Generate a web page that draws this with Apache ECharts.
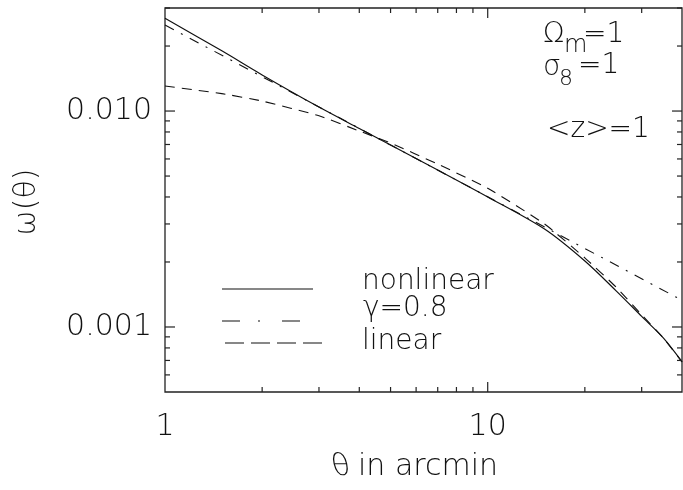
<!DOCTYPE html>
<html>
<head>
<meta charset="utf-8">
<script src="https://cdn.jsdelivr.net/npm/echarts@6/dist/echarts.min.js"></script>
<style>
  html, body { margin: 0; padding: 0; background: #fff; }
  #chart { width: 683px; height: 490px; }
</style>
</head>
<body>
<div id="chart"></div>
<script>
// values
const thetaNonlin = [1, 1.5, 2, 3, 4, 5, 7, 10, 15, 20, 25, 30, 35, 40];
const omegaNonlin = [0.0269, 0.0190, 0.0147, 0.01043, 0.0083, 0.00696, 0.00533, 0.0040, 0.00284, 0.00202, 0.00147, 0.00112, 0.00089, 0.00069];
const thetaGamma = [1, 2, 5, 10, 20, 40];
const omegaGamma = [0.0250, 0.01442, 0.00696, 0.00401, 0.00231, 0.00133];
const thetaLin = [1, 1.5, 2, 3, 4, 5, 7, 10, 15, 20, 25, 30, 35, 40];
const omegaLin = [0.01305, 0.01204, 0.01112, 0.00951, 0.00808, 0.00711, 0.00568, 0.00439, 0.00300, 0.00209, 0.00153, 0.00114, 0.00089, 0.00069];

const xMajorTicks = [10];
const xMinorTicks = [2, 3, 4, 5, 6, 7, 8, 9, 20, 30];
const yMajorTicks = [0.001, 0.01];
const yMinorTicks = [0.0006, 0.0007, 0.0008, 0.0009, 0.002, 0.003, 0.004, 0.005, 0.006, 0.007, 0.008, 0.009, 0.02, 0.03];

const X_MIN = 1, X_MAX = 40, Y_MIN = 0.0005, Y_MAX = 0.03;
const FONT = "'DejaVu Sans'";
const INK = '#111';

function pairs(xs, ys) {
    return xs.map(function (x, i) { return [x, ys[i]]; });
}

// tick marks on all four sides, pointing inward
const xTickData = xMajorTicks.map(v => [v, Y_MIN, 10]).concat(xMinorTicks.map(v => [v, Y_MIN, 5]));
const yTickData = yMajorTicks.map(v => [X_MIN, v, 10]).concat(yMinorTicks.map(v => [X_MIN, v, 5]));

function tickRenderer(isX, data) {
    return function (params, api) {
        const cs = params.coordSys;
        const d = data[params.dataIndex];
        const p = api.coord([d[0], d[1]]);
        const len = d[2];
        const st = {stroke: '#222', lineWidth: 1.2};
        let a, b;
        if (isX) {
            const bottom = cs.y + cs.height;
            a = {x1: p[0], y1: bottom, x2: p[0], y2: bottom - len};
            b = {x1: p[0], y1: cs.y, x2: p[0], y2: cs.y + len};
        } else {
            const right = cs.x + cs.width;
            a = {x1: cs.x, y1: p[1], x2: cs.x + len, y2: p[1]};
            b = {x1: right, y1: p[1], x2: right - len, y2: p[1]};
        }
        return {
            type: 'group',
            children: [
                {type: 'line', shape: a, style: st},
                {type: 'line', shape: b, style: st}
            ]
        };
    };
}

function txt(text, x, y, size, extra) {
    return {
        type: 'text',
        style: Object.assign({
            text: text, x: x, y: y,
            fontSize: size, fontFamily: FONT, fontWeight: 200, fill: INK,
            textAlign: 'left', textVerticalAlign: 'middle',
            align: 'left', verticalAlign: 'middle'
        }, extra || {})
    };
}

function seg(x1, x2, y, dash) {
    return {
        type: 'line',
        shape: {x1: x1, y1: y, x2: x2, y2: y},
        style: {stroke: '#111', lineWidth: 1.2, lineDash: dash || null}
    };
}

const chart = echarts.init(document.getElementById('chart'), null, {renderer: 'canvas'});

// thin slanted theta for the x title
const thetaTitle = txt('θ', 0, 0, 30);
thetaTitle.x = 332;
thetaTitle.y = 467;
thetaTitle.skewX = 0.22;

const option = {
    animation: false,
    backgroundColor: '#fff',
    grid: {
        left: 165, right: 1, top: 8, bottom: 98,
        show: true, borderColor: '#222', borderWidth: 1.3
    },
    xAxis: {
        type: 'log', logBase: 10, min: X_MIN, max: X_MAX,
        axisLine: {show: false}, axisTick: {show: false}, splitLine: {show: false},
        axisLabel: {
            fontSize: 30, fontFamily: FONT, fontWeight: 200, color: INK, margin: 20,
            showMinLabel: true, showMaxLabel: false,
            formatter: function (v) { return String(Math.round(v)); }
        }
    },
    yAxis: {
        type: 'log', logBase: 10, min: Y_MIN, max: Y_MAX,
        axisLine: {show: false}, axisTick: {show: false}, splitLine: {show: false},
        axisLabel: {
            fontSize: 30, fontFamily: FONT, fontWeight: 200, color: INK, margin: 13,
            showMinLabel: false, showMaxLabel: false,
            formatter: function (v) { return v.toFixed(3); }
        }
    },
    series: [
        {
            name: 'nonlinear', type: 'line', data: pairs(thetaNonlin, omegaNonlin),
            showSymbol: false, smooth: 0.3, clip: true,
            lineStyle: {color: '#111', width: 1.2, type: 'solid'}
        },
        {
            name: 'gamma', type: 'line', data: pairs(thetaGamma, omegaGamma),
            showSymbol: false, clip: true,
            lineStyle: {color: '#111', width: 1.1, type: [10, 8, 2, 8]}
        },
        {
            name: 'linear', type: 'line', data: pairs(thetaLin, omegaLin),
            showSymbol: false, smooth: 0.15, clip: true,
            lineStyle: {color: '#111', width: 1.1, type: [10, 7]}
        },
        {
            type: 'custom', renderItem: tickRenderer(true, xTickData),
            data: xTickData, clip: false, silent: true, z: 5
        },
        {
            type: 'custom', renderItem: tickRenderer(false, yTickData),
            data: yTickData, clip: false, silent: true, z: 5
        }
    ],
    graphic: [
        // axis titles
        {
            type: 'text', x: 27, y: 202, rotation: Math.PI / 2,
            style: {
                text: 'ω(θ)', fontSize: 30, fontFamily: FONT, fontWeight: 200, fill: INK,
                textAlign: 'center', textVerticalAlign: 'middle', align: 'center', verticalAlign: 'middle'
            }
        },
        thetaTitle,
        txt('in arcmin', 358, 467, 30),
        // annotations
        txt('Ω', 543, 35, 28),
        txt('m', 564, 46, 24),
        txt('=1', 583, 35, 28),
        txt('σ', 543, 68, 28),
        txt('8', 559, 79, 22),
        txt('=1', 578, 66, 28),
        txt('<z>=1', 547, 130, 28),
        // legend
        seg(222, 313, 289),
        seg(222, 300, 321, [18, 18, 2, 22]),
        seg(225, 322, 343, [19, 7]),
        txt('nonlinear', 362, 282, 28),
        txt('γ=0.8', 363, 309, 28),
        txt('linear', 362, 342, 28)
    ]
};

chart.setOption(option);
</script>
</body>
</html>
